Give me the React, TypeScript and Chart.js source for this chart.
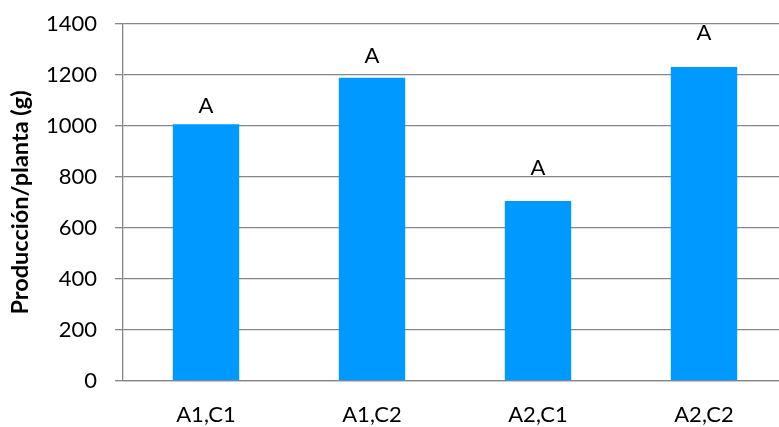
import React, { useEffect, useRef } from "react";
import { Chart, registerables } from "chart.js";

Chart.register(...registerables);

const categories = ["A1,C1", "A1,C2", "A2,C1", "A2,C2"];
const production = [1007, 1189, 706, 1231];
const letterLabels = ["A", "A", "A", "A"];
const letterPositions = [1051, 1247, 808, 1337];
const yTicks = [0, 200, 400, 600, 800, 1000, 1200, 1400];

const FONT = "Lato, 'Liberation Sans', sans-serif";

const letterPlugin = {
  id: "letterPlugin",
  afterDatasetsDraw(chart: any) {
    const ctx = chart.ctx;
    const meta = chart.getDatasetMeta(0);
    const yScale = chart.scales.y;
    ctx.save();
    ctx.fillStyle = "#000";
    ctx.font = `22px ${FONT}`;
    ctx.textAlign = "center";
    ctx.textBaseline = "alphabetic";
    meta.data.forEach((bar: any, i: number) => {
      ctx.fillText(letterLabels[i], bar.x, yScale.getPixelForValue(letterPositions[i]));
    });
    ctx.restore();
  },
};

export default function App() {
  const ref = useRef<HTMLCanvasElement | null>(null);
  useEffect(() => {
    if (!ref.current) return;
    const chart = new Chart(ref.current, {
      type: "bar",
      data: {
        labels: categories,
        datasets: [
          {
            data: production,
            backgroundColor: "#0099FF",
            borderWidth: 0,
            barPercentage: 0.4,
            categoryPercentage: 1,
          },
        ],
      },
      options: {
        responsive: false,
        animation: false,
        layout: { padding: { top: 24, right: 13, bottom: 0, left: 0 } },
        plugins: { legend: { display: false }, tooltip: { enabled: false } },
        scales: {
          x: {
            grid: { display: false },
            border: { display: true, color: "#868686", width: 1.3 },
            ticks: { color: "#000", font: { family: FONT, size: 22 }, padding: 13 },
            afterFit: (s: any) => {
              s.height = 46;
            },
          },
          y: {
            min: 0,
            max: 1400,
            afterBuildTicks: (s: any) => {
              s.ticks = yTicks.map((v) => ({ value: v }));
            },
            grid: { color: "#868686", lineWidth: 1.3, tickLength: 8, drawTicks: true },
            border: { display: true, color: "#868686", width: 1.3 },
            ticks: {
              color: "#000",
              font: { family: FONT, size: 22 },
              padding: 18,
              callback: (v: any) => String(v),
            },
            title: {
              display: true,
              text: "Producción/planta (g)",
              color: "#000",
              font: { family: FONT, size: 23.5, weight: "bold" },
              padding: { top: 6, bottom: 0 },
            },
            afterFit: (s: any) => {
              s.width = 123;
              s.paddingTop = 0;
              s.paddingBottom = 0;
            },
          },
        },
      },
      plugins: [letterPlugin],
    });
    return () => chart.destroy();
  }, []);
  return (
    <div
      style={{
        position: "fixed",
        left: 0,
        top: 0,
        width: 779,
        height: 427,
        overflow: "hidden",
        background: "#fff",
      }}
    >
      <canvas ref={ref} width={800} height={427} style={{ width: 800, height: 427 }} />
    </div>
  );
}
